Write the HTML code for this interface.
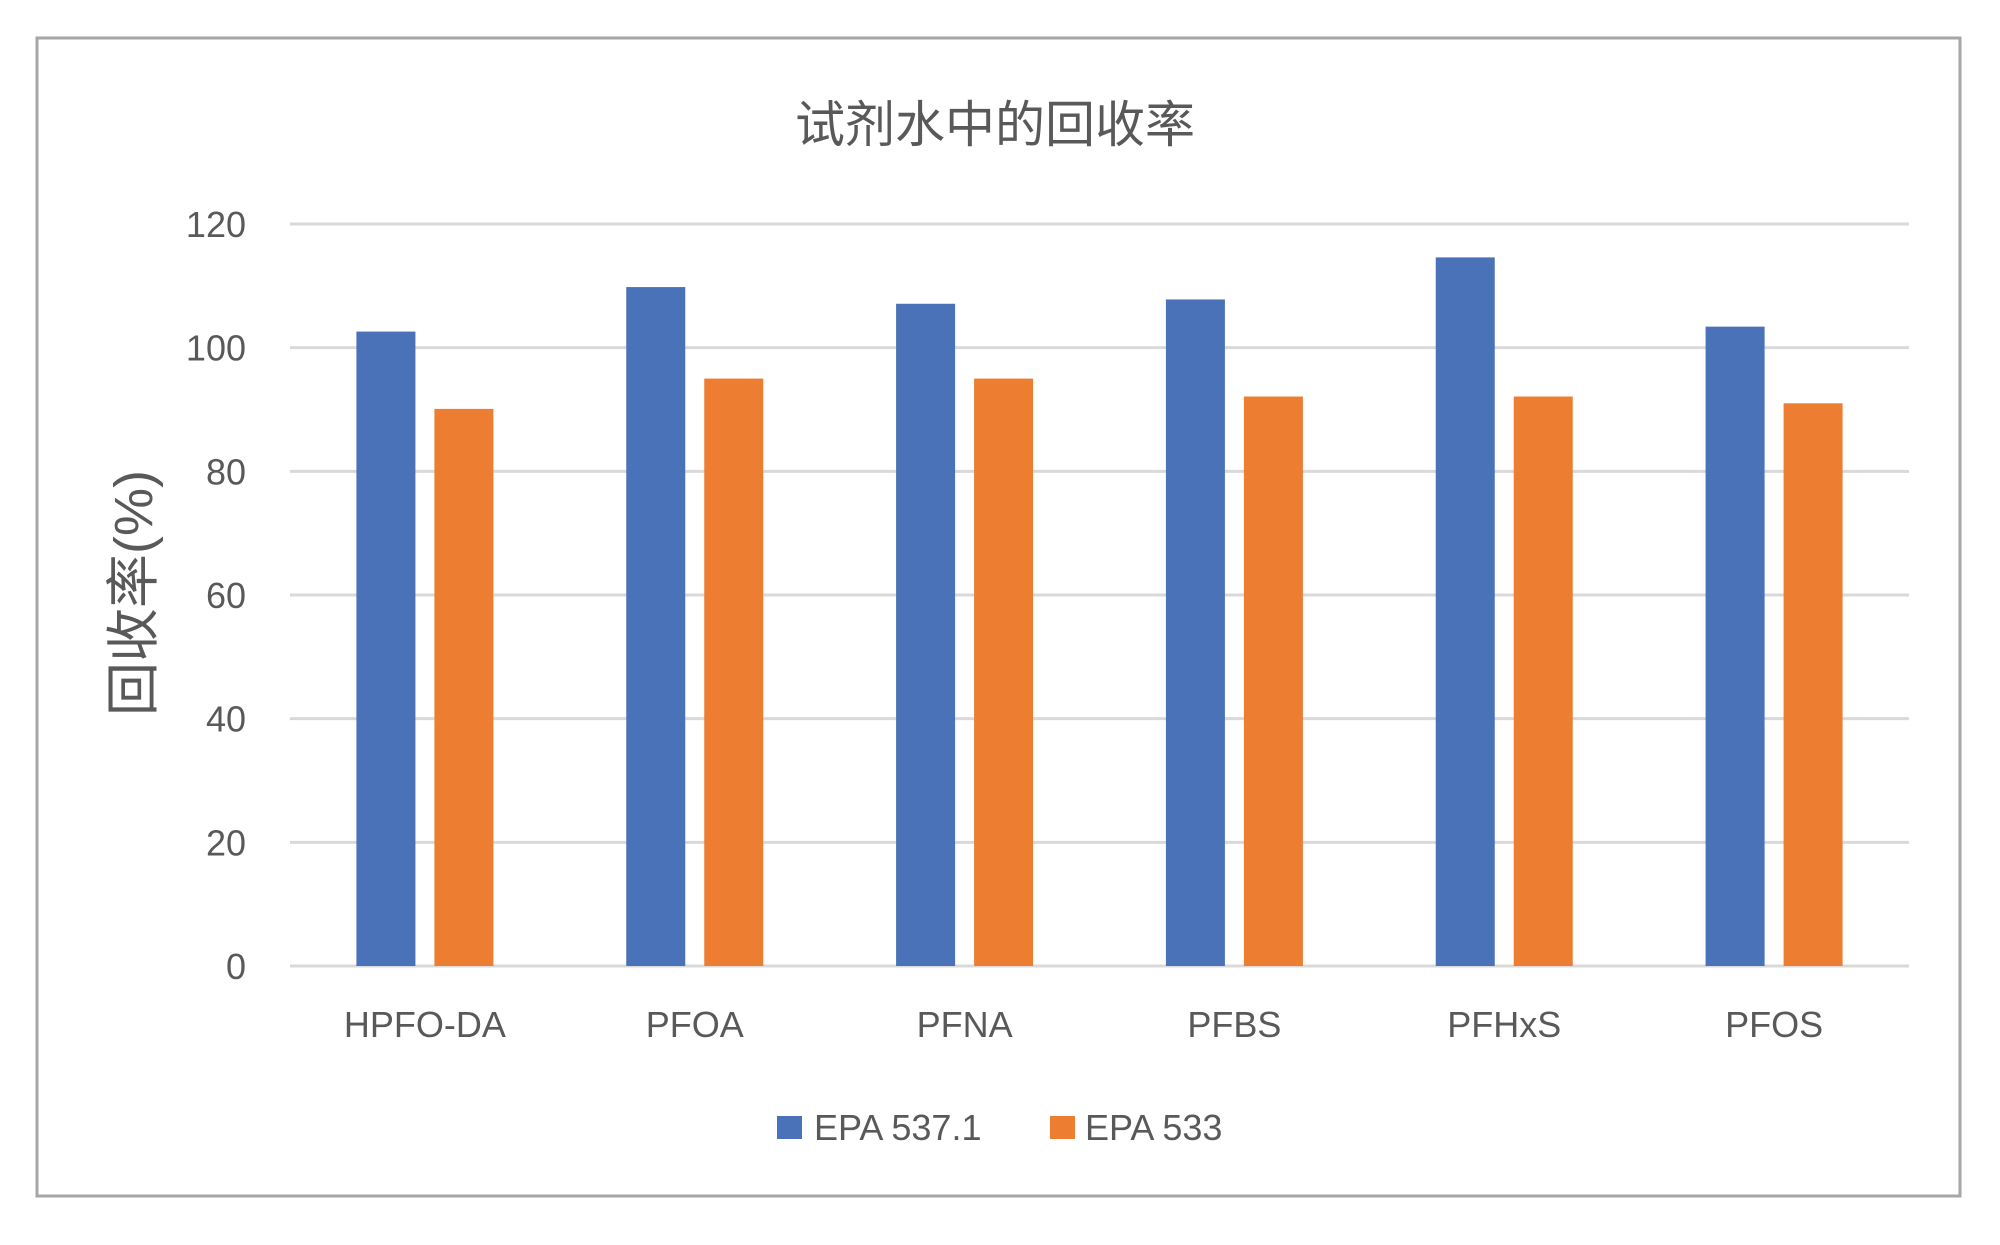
<!DOCTYPE html>
<html><head><meta charset="utf-8"><style>
body{margin:0;background:#fff;}
svg text{font-family:"Liberation Sans","Noto Sans CJK SC",sans-serif;fill:#595959;}
</style></head><body>
<svg width="2000" height="1240" xmlns="http://www.w3.org/2000/svg">
<rect x="37" y="38" width="1923" height="1158" fill="#fff" stroke="#a6a6a6" stroke-width="3"/>
<text x="995" y="142" font-size="50" text-anchor="middle">试剂水中的回收率</text>
<text transform="translate(152,593) rotate(-90)" font-size="54" text-anchor="middle">回收率(%)</text>
<g id="grid"></g><g id="bars"></g><g id="xlabels"></g>
<g>
<rect x="777" y="1116" width="25" height="23" fill="#4a72b8"/>
<text x="814" y="1140" font-size="36">EPA 537.1</text>
<rect x="1050" y="1116" width="25" height="23" fill="#ed7d31"/>
<text x="1085" y="1140" font-size="36">EPA 533</text>
</g>
</svg>
<script>
const categories=["HPFO-DA","PFOA","PFNA","PFBS","PFHxS","PFOS"];
const epa5371=[102.6,109.8,107.1,107.8,114.6,103.4];
const epa533=[90.1,95.0,95.0,92.1,92.1,91.0];
const yTicks=[0,20,40,60,80,100,120];
const NS="http://www.w3.org/2000/svg";
const x0=290,x1=1909,yZero=966,yTop=224,yMax=120;
const y=v=>yZero-(v/yMax)*(yZero-yTop);
const cw=(x1-x0)/categories.length;
const xc=i=>x0+cw*(i+0.5);
function mk(tag,attrs,parent){const e=document.createElementNS(NS,tag);for(const k in attrs)e.setAttribute(k,attrs[k]);parent.appendChild(e);return e;}
const grid=document.getElementById('grid');
yTicks.forEach(t=>{
  const l=mk('line',{x1:x0,x2:x1,y1:y(t),y2:y(t),stroke:'#d9d9d9','stroke-width':3},grid);
  
  
  const tx=mk('text',{x:246,y:y(t)+13,'font-size':36,'text-anchor':'end'},grid);
  tx.textContent=t;
  
  
});
const bars=document.getElementById('bars'),xl=document.getElementById('xlabels');
const bw=59;
categories.forEach((c,i)=>{
  const b1=mk('rect',{x:xc(i)-39-bw/2,y:y(epa5371[i]),width:bw,height:yZero-y(epa5371[i]),fill:'#4a72b8'},bars);
  
  
  const b2=mk('rect',{x:xc(i)+39-bw/2,y:y(epa533[i]),width:bw,height:yZero-y(epa533[i]),fill:'#ed7d31'},bars);
  
  
  const t=mk('text',{x:xc(i),y:1037,'font-size':36,'text-anchor':'middle'},xl);
  t.textContent=c;
  
  
});
</script>
</body></html>
